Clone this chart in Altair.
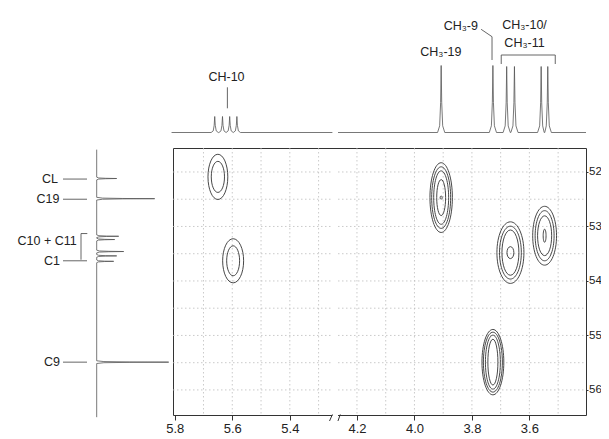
import altair as alt
import pandas as pd

FONT = "Liberation Sans"

# ---------------- data ----------------
x_ticks = [5.8, 5.6, 5.4, 4.2, 4.0, 3.8, 3.6]
y_ticks = [52, 53, 54, 55, 56]
x_grid = [5.7, 5.6, 5.5, 5.4, 5.3, 4.2, 4.1, 4.0, 3.9, 3.8, 3.7, 3.6, 3.5]
y_grid = [52, 52.5, 53, 53.5, 54, 54.5, 55, 55.5, 56]

# broken 1H axis: left piece 5.806-5.252, right piece 4.266-3.403
x_domain = [5.806, 5.252, 4.266, 3.403]
y_domain = [51.56, 56.46]

# HSQC cross peaks (1H ppm, 13C ppm) and contour ring extents (ppm)
peak_id = ["CL", "C1", "C19", "C10", "C11", "C9"]
peak_h1 = [5.650, 5.597, 3.907, 3.666, 3.547, 3.727]
peak_c13 = [52.09, 53.63, 52.47, 53.48, 53.17, 55.49]
ring_w = [
    [0.069, 0.046],
    [0.073, 0.045],
    [0.078, 0.066, 0.052, 0.031, 0.007],
    [0.094, 0.076, 0.059, 0.024],
    [0.083, 0.066, 0.049, 0.010],
    [0.076, 0.066, 0.052, 0.035],
]
ring_h = [
    [0.83, 0.57],
    [0.81, 0.55],
    [1.28, 1.13, 0.98, 0.66, 0.06],
    [1.13, 0.97, 0.83, 0.22],
    [1.08, 0.92, 0.73, 0.24],
    [1.20, 1.10, 0.99, 0.84],
]

# 1H projection (top)
h1_pos = [5.661, 5.634, 5.609, 5.584, 3.907, 3.727, 3.679, 3.652, 3.559, 3.536]
h1_int = [16, 16, 16, 16, 67, 67, 66, 66, 66, 66]
h1_segments = [(5.811, 5.252), (4.266, 3.403)]

# 13C projection (left)
c13_pos = [52.12, 52.49, 53.18, 53.24, 53.46, 53.54, 53.64, 55.49]
c13_int = [20, 58, 22, 18, 27, 20, 17, 72]
c13_span = (51.59, 56.50)

# annotations
top_labels = ["CH-10", "CH\u2083-19", "CH\u2083-10/", "CH\u2083-11"]
top_label_x = [5.620, 3.908, 3.617, 3.617]
top_label_y = [55.8, 80.2, 107.5, 89.2]
top_rlabels = ["CH\u2083-9"]
top_rlabel_x = [3.779]
top_rlabel_y = [106.5]
top_seg_x = [5.617, 3.768, 3.730, 3.698, 3.698, 3.510]
top_seg_x2 = [5.617, 3.730, 3.730, 3.510, 3.698, 3.510]
top_seg_y = [45.2, 103.2, 95.8, 77.5, 77.5, 77.5]
top_seg_y2 = [24.2, 95.8, 72.5, 77.5, 68.5, 68.5]

left_labels = ["CL", "C19", "C10 + C11", "C1", "C9"]
left_label_x = [-38.7, -37.2, -20.0, -36.8, -36.8]
left_label_y = [52.12, 52.49, 53.27, 53.64, 55.49]
left_seg_x = [-33.7, -33.7, -33.7, -33.7, -15.7, -15.7]
left_seg_x2 = [-9.7, -9.7, -9.7, -9.7, -15.7, -9.4]
left_seg_y = [52.13, 52.50, 53.63, 55.49, 53.13, 53.13]
left_seg_y2 = [52.13, 52.50, 53.63, 55.49, 53.61, 53.13]

# ---------------- scales ----------------
W, H = 413, 267
x_range = [0, 159.4, 165, 413]
xs = alt.Scale(domain=x_domain, range=x_range, zero=False, nice=False)
ys = alt.Scale(domain=y_domain, reverse=True, zero=False, nice=False)
top_s = alt.Scale(domain=[0, 100], range=[-15.5, -115.5], zero=False, nice=False)
left_s = alt.Scale(domain=[0, 100], range=[-76.3, 23.7], zero=False, nice=False)

px_per_h1 = (x_range[3] - x_range[2]) / (x_domain[2] - x_domain[3])
px_per_c13 = H / (y_domain[1] - y_domain[0])


def ellipse_path(a):
    k = 0.5523
    return (f"M0,-1C{k*a:.4f},-1 {a:.4f},{-k:.4f} {a:.4f},0"
            f"C{a:.4f},{k:.4f} {k*a:.4f},1 0,1"
            f"C{-k*a:.4f},1 {-a:.4f},{k:.4f} {-a:.4f},0"
            f"C{-a:.4f},{-k:.4f} {-k*a:.4f},-1 0,-1Z")


rows = []
for pid, cx, cy, ws, hs in zip(peak_id, peak_h1, peak_c13, ring_w, ring_h):
    for k, (w, h) in enumerate(zip(ws, hs)):
        aspect = (w * px_per_h1) / (h * px_per_c13)
        rows.append({"ring": f"{pid}-{k}", "h1": cx, "c13": cy, "ext": h,
                     "path": ellipse_path(aspect)})
ring_df = pd.DataFrame(rows)

PROFILE = [(-1, 0), (-0.42, 0.1), (-0.15, 0.45), (0, 1), (0.15, 0.45), (0.42, 0.1), (1, 0)]


def trace(pos, inten, lo, hi, hw):
    pts = [(lo, 0.0), (hi, 0.0)]
    for p, h in zip(pos, inten):
        if min(lo, hi) <= p <= max(lo, hi):
            for f, r in PROFILE:
                pts.append((p + f * hw, h * r))
    return pts


top_rows = []
for si, (lo, hi) in enumerate(h1_segments):
    for p, v in trace(h1_pos, h1_int, lo, hi, 0.0125):
        top_rows.append({"ppm": p, "int": v, "seg": si})
top_df = pd.DataFrame(top_rows)

left_df = pd.DataFrame(
    [{"ppm": p, "int": v} for p, v in trace(c13_pos, c13_int, c13_span[0], c13_span[1], 0.025)]
)

# ---------------- layers ----------------
grid_style = dict(color="#bdbdbd", strokeWidth=0.8, strokeDash=[1.5, 2.5])

vgrid = alt.Chart(pd.DataFrame({"x": x_grid})).mark_rule(**grid_style).encode(
    x=alt.X("x:Q", scale=xs, axis=None)
)

hrows = []
for yv in y_grid:
    hrows.append({"y": yv, "x": x_domain[0], "x2": x_domain[1]})
    hrows.append({"y": yv, "x": x_domain[2], "x2": x_domain[3]})
hgrid = alt.Chart(pd.DataFrame(hrows)).mark_rule(**grid_style).encode(
    x=alt.X("x:Q", scale=xs, axis=None),
    x2="x2:Q",
    y=alt.Y("y:Q", scale=ys, axis=None),
)

x_axis = alt.Axis(values=x_ticks, format=".1f", title=None, grid=False, domain=False,
                  tickSize=5, tickColor="#333", labelColor="#222", labelFont=FONT,
                  labelFontSize=13, labelPadding=2, labelFlush=False, labelOverlap=False)
y_axis = alt.Axis(values=y_ticks, format="d", title=None, grid=False, domain=False,
                  orient="right", tickSize=2, tickColor="#333", labelColor="#222",
                  labelFont=FONT, labelFontSize=11.5, labelPadding=0.5, labelOverlap=False)

contours = alt.Chart(ring_df).mark_point(filled=False, color="#333", strokeWidth=0.9,
                                          opacity=1).encode(
    x=alt.X("h1:Q", scale=xs, axis=x_axis),
    y=alt.Y("c13:Q", scale=ys, axis=y_axis),
    size=alt.Size("ext:Q", scale=alt.Scale(type="pow", exponent=2, domain=[0, 1],
                                           range=[0, px_per_c13 ** 2]), legend=None),
    shape=alt.Shape("path:N", scale=None),
    detail="ring:N",
)

top_spec = alt.Chart(top_df).mark_line(color="#555", strokeWidth=0.8).encode(
    x=alt.X("ppm:Q", scale=xs, axis=None),
    y=alt.Y("int:Q", scale=top_s, axis=None),
    detail="seg:N",
)

left_spec = alt.Chart(left_df).mark_line(color="#555", strokeWidth=0.8).encode(
    x=alt.X("int:Q", scale=left_s, axis=None),
    y=alt.Y("ppm:Q", scale=ys, axis=None),
    order=alt.Order("ppm:Q"),
)

txt = dict(font=FONT, fontSize=12.5, color="#222", baseline="middle")

top_text = alt.Chart(pd.DataFrame({"t": top_labels, "x": top_label_x, "y": top_label_y})).mark_text(
    align="center", **txt).encode(
    x=alt.X("x:Q", scale=xs, axis=None),
    y=alt.Y("y:Q", scale=top_s, axis=None),
    text="t:N",
)
top_rtext = alt.Chart(pd.DataFrame({"t": top_rlabels, "x": top_rlabel_x, "y": top_rlabel_y})).mark_text(
    align="right", **txt).encode(
    x=alt.X("x:Q", scale=xs, axis=None),
    y=alt.Y("y:Q", scale=top_s, axis=None),
    text="t:N",
)
top_lines = alt.Chart(pd.DataFrame({"x": top_seg_x, "x2": top_seg_x2, "y": top_seg_y,
                                    "y2": top_seg_y2})).mark_rule(color="#555", strokeWidth=0.9).encode(
    x=alt.X("x:Q", scale=xs, axis=None), x2="x2:Q",
    y=alt.Y("y:Q", scale=top_s, axis=None), y2="y2:Q",
)

left_text = alt.Chart(pd.DataFrame({"t": left_labels, "x": left_label_x, "y": left_label_y})).mark_text(
    align="right", **txt).encode(
    x=alt.X("x:Q", scale=left_s, axis=None),
    y=alt.Y("y:Q", scale=ys, axis=None),
    text="t:N",
)
left_lines = alt.Chart(pd.DataFrame({"x": left_seg_x, "x2": left_seg_x2, "y": left_seg_y,
                                     "y2": left_seg_y2})).mark_rule(color="#555", strokeWidth=0.9).encode(
    x=alt.X("x:Q", scale=left_s, axis=None), x2="x2:Q",
    y=alt.Y("y:Q", scale=ys, axis=None), y2="y2:Q",
)

# axis break marks
gap = alt.Chart(pd.DataFrame({"x": [x_domain[1]], "x2": [x_domain[2]], "y": [y_domain[1]]})).mark_rule(
    color="white", strokeWidth=3).encode(
    x=alt.X("x:Q", scale=xs, axis=None), x2="x2:Q",
    y=alt.Y("y:Q", scale=ys, axis=None),
)
slashes = alt.Chart(pd.DataFrame({"x": [5.262, 4.272], "x2": [5.250, 4.258],
                                  "y": [56.57, 56.57], "y2": [56.45, 56.45]})).mark_rule(
    color="#333", strokeWidth=1).encode(
    x=alt.X("x:Q", scale=xs, axis=None), x2="x2:Q",
    y=alt.Y("y:Q", scale=ys, axis=None), y2="y2:Q",
)

chart = alt.layer(
    vgrid, hgrid, contours, top_spec, left_spec, top_lines, top_text, top_rtext,
    left_lines, left_text, gap, slashes,
).resolve_scale(
    x="independent", y="independent"
).properties(
    width=W, height=H,
    autosize=alt.AutoSizeParams(type="none"),
    padding={"left": 165, "top": 140, "right": 15, "bottom": 24},
).configure_view(stroke="#333", strokeWidth=1)

chart.save("out.html", embed_options={"renderer": "svg", "actions": False})
